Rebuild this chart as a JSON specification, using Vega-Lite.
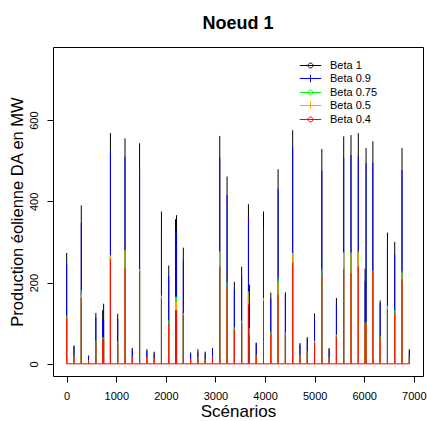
{
  "$schema": "https://vega.github.io/schema/vega-lite/v6.json",
  "width": 370,
  "height": 329,
  "autosize": "none",
  "padding": {"left": 53, "top": 47, "right": 4, "bottom": 45},
  "background": "white",
  "view": {"stroke": "black", "strokeWidth": 1},
  "config": {"font": "Liberation Sans"},
  "title": {"text": "Noeud 1", "fontSize": 18, "fontWeight": "bold", "font": "Liberation Sans", "color": "black", "anchor": "middle", "offset": 14},
  "data": {"values": [
    {"s": 0, "b1": 273, "b09": 247, "b075": 119, "b05": 114, "b04": 114},
    {"s": 147, "b1": 45, "b09": 43, "b075": 20, "b05": 20, "b04": 20},
    {"s": 294, "b1": 390, "b09": 347, "b075": 181, "b05": 170, "b04": 162},
    {"s": 441, "b1": 20, "b09": 20, "b075": 8, "b05": 8, "b04": 8},
    {"s": 588, "b1": 125, "b09": 114, "b075": 57, "b05": 53, "b04": 53},
    {"s": 725, "b1": 132, "b09": 108, "b075": 65, "b05": 62, "b04": 62},
    {"s": 745, "b1": 148, "b09": 108, "b075": 65, "b05": 62, "b04": 62},
    {"s": 882, "b1": 568, "b09": 523, "b075": 267, "b05": 267, "b04": 258},
    {"s": 1029, "b1": 123, "b09": 111, "b075": 55, "b05": 51, "b04": 51},
    {"s": 1176, "b1": 555, "b09": 510, "b075": 280, "b05": 280, "b04": 235},
    {"s": 1323, "b1": 39, "b09": 36, "b075": 16, "b05": 16, "b04": 16},
    {"s": 1470, "b1": 543, "b09": 481, "b075": 232, "b05": 232, "b04": 228},
    {"s": 1617, "b1": 36, "b09": 32, "b075": 16, "b05": 16, "b04": 16},
    {"s": 1764, "b1": 30, "b09": 26, "b075": 14, "b05": 14, "b04": 14},
    {"s": 1911, "b1": 375, "b09": 338, "b075": 168, "b05": 160, "b04": 160},
    {"s": 2058, "b1": 242, "b09": 216, "b075": 107, "b05": 100, "b04": 100},
    {"s": 2195, "b1": 356, "b09": 327, "b075": 165, "b05": 153, "b04": 132},
    {"s": 2215, "b1": 366, "b09": 327, "b075": 165, "b05": 153, "b04": 132},
    {"s": 2352, "b1": 286, "b09": 255, "b075": 125, "b05": 120, "b04": 120},
    {"s": 2499, "b1": 28, "b09": 26, "b075": 12, "b05": 12, "b04": 12},
    {"s": 2646, "b1": 36, "b09": 28, "b075": 17, "b05": 17, "b04": 17},
    {"s": 2793, "b1": 30, "b09": 26, "b075": 12, "b05": 12, "b04": 12},
    {"s": 2940, "b1": 39, "b09": 35, "b075": 16, "b05": 16, "b04": 16},
    {"s": 3087, "b1": 561, "b09": 508, "b075": 277, "b05": 277, "b04": 239},
    {"s": 3234, "b1": 461, "b09": 415, "b075": 201, "b05": 189, "b04": 189},
    {"s": 3381, "b1": 202, "b09": 181, "b075": 90, "b05": 84, "b04": 84},
    {"s": 3528, "b1": 239, "b09": 217, "b075": 106, "b05": 100, "b04": 100},
    {"s": 3665, "b1": 393, "b09": 361, "b075": 179, "b05": 175, "b04": 146},
    {"s": 3685, "b1": 195, "b09": 175, "b075": 88, "b05": 72, "b04": 72},
    {"s": 3822, "b1": 52, "b09": 51, "b075": 22, "b05": 22, "b04": 22},
    {"s": 3969, "b1": 375, "b09": 335, "b075": 162, "b05": 155, "b04": 155},
    {"s": 4116, "b1": 175, "b09": 160, "b075": 80, "b05": 73, "b04": 73},
    {"s": 4263, "b1": 479, "b09": 431, "b075": 212, "b05": 203, "b04": 170},
    {"s": 4410, "b1": 176, "b09": 170, "b075": 77, "b05": 73, "b04": 73},
    {"s": 4557, "b1": 575, "b09": 534, "b075": 273, "b05": 273, "b04": 249},
    {"s": 4704, "b1": 51, "b09": 47, "b075": 22, "b05": 22, "b04": 22},
    {"s": 4851, "b1": 66, "b09": 61, "b075": 30, "b05": 30, "b04": 30},
    {"s": 4998, "b1": 124, "b09": 115, "b075": 56, "b05": 52, "b04": 52},
    {"s": 5145, "b1": 529, "b09": 475, "b075": 232, "b05": 216, "b04": 216},
    {"s": 5292, "b1": 39, "b09": 36, "b075": 16, "b05": 16, "b04": 16},
    {"s": 5439, "b1": 162, "b09": 146, "b075": 72, "b05": 67, "b04": 67},
    {"s": 5586, "b1": 560, "b09": 508, "b075": 274, "b05": 274, "b04": 234},
    {"s": 5733, "b1": 563, "b09": 514, "b075": 274, "b05": 274, "b04": 224},
    {"s": 5880, "b1": 568, "b09": 511, "b075": 276, "b05": 276, "b04": 240},
    {"s": 6017, "b1": 234, "b09": 203, "b075": 100, "b05": 100, "b04": 100},
    {"s": 6037, "b1": 531, "b09": 494, "b075": 104, "b05": 100, "b04": 100},
    {"s": 6174, "b1": 548, "b09": 494, "b075": 229, "b05": 229, "b04": 227},
    {"s": 6321, "b1": 156, "b09": 150, "b075": 69, "b05": 66, "b04": 66},
    {"s": 6468, "b1": 323, "b09": 294, "b075": 143, "b05": 134, "b04": 134},
    {"s": 6615, "b1": 300, "b09": 269, "b075": 132, "b05": 125, "b04": 125},
    {"s": 6762, "b1": 531, "b09": 477, "b075": 228, "b05": 224, "b04": 209},
    {"s": 6909, "b1": 36, "b09": 32, "b075": 15, "b05": 15, "b04": 15}
  ]},
  "layer": [
    {"mark": {"type": "rule", "strokeWidth": 1, "color": "#ff0000"},
     "encoding": {
       "x": {"aggregate": "min", "field": "s", "type": "quantitative"},
       "x2": {"aggregate": "max", "field": "s"},
       "y": {"datum": 0, "type": "quantitative"}
     }},
    {"transform": [{"fold": ["b1", "b09", "b075", "b05", "b04"], "as": ["beta", "v"]}],
     "layer": [
      {"mark": {"type": "rule", "strokeWidth": 1},
       "encoding": {
         "y": {"field": "v", "type": "quantitative"},
         "y2": {"datum": 0}
       }},
      {"mark": {"type": "point", "opacity": 0, "strokeWidth": 1},
       "encoding": {
         "y": {"field": "v", "type": "quantitative"},
         "shape": {"field": "beta", "type": "nominal", "sort": ["b1", "b09", "b075", "b05", "b04"],
           "scale": {"domain": ["b1", "b09", "b075", "b05", "b04"], "range": [
             "M-1.6,0L1.6,0M-0.36,0A0.36,0.36 0 1,0 0.36,0A0.36,0.36 0 1,0 -0.36,0",
             "M-1.6,0L1.6,0M0,-0.55L0,0.55",
             "M-1.6,0L1.6,0M-0.36,0A0.36,0.36 0 1,0 0.36,0A0.36,0.36 0 1,0 -0.36,0",
             "M-1.6,0L1.6,0M0,-0.55L0,0.55",
             "M-1.6,0L1.6,0M-0.36,0A0.36,0.36 0 1,0 0.36,0A0.36,0.36 0 1,0 -0.36,0"]},
           "legend": {"orient": "none", "legendX": 250, "legendY": 11, "title": null, "labelFontSize": 11, "labelColor": "black", "labelOffset": 12, "symbolSize": 182, "symbolStrokeWidth": 1, "symbolOpacity": 1, "rowPadding": -1, "padding": 0,
             "labelExpr": "{'b1':'Beta 1','b09':'Beta 0.9','b075':'Beta 0.75','b05':'Beta 0.5','b04':'Beta 0.4'}[datum.label]"}}
       }}
     ],
     "encoding": {
       "color": {"field": "beta", "type": "nominal", "sort": ["b1", "b09", "b075", "b05", "b04"],
         "scale": {"domain": ["b1", "b09", "b075", "b05", "b04"], "range": ["#000000", "#0000ff", "#00ff00", "#ffa500", "#ff0000"]},
         "legend": {"orient": "none", "legendX": 250, "legendY": 11, "title": null, "labelFontSize": 11, "labelColor": "black", "labelOffset": 12, "symbolSize": 182, "symbolStrokeWidth": 1, "symbolOpacity": 1, "rowPadding": -1, "padding": 0,
           "labelExpr": "{'b1':'Beta 1','b09':'Beta 0.9','b075':'Beta 0.75','b05':'Beta 0.5','b04':'Beta 0.4'}[datum.label]"}}
     }}
  ],
  "encoding": {
    "x": {"field": "s", "type": "quantitative", "scale": {"domain": [-276, 7185], "nice": false, "zero": false},
      "axis": {"values": [0, 1000, 2000, 3000, 4000, 5000, 6000, 7000], "format": "d", "grid": false, "domain": false, "tickColor": "black", "tickSize": 6, "labelFontSize": 11, "labelColor": "black", "labelPadding": 8, "title": "Scénarios", "titleFontSize": 17, "titleFontWeight": "normal", "titleColor": "black", "titlePadding": 2}},
    "y": {"type": "quantitative", "scale": {"domain": [-30, 780], "nice": false, "zero": false},
      "axis": {"values": [0, 200, 400, 600], "grid": false, "domain": false, "tickColor": "black", "tickSize": 6, "labelFontSize": 11, "labelColor": "black", "labelAngle": -90, "labelAlign": "center", "labelBaseline": "bottom", "labelPadding": 8, "title": "Production éolienne DA en MW", "titleFontSize": 16.5, "titleFontWeight": "normal", "titleColor": "black", "titlePadding": 3}}
  }
}
